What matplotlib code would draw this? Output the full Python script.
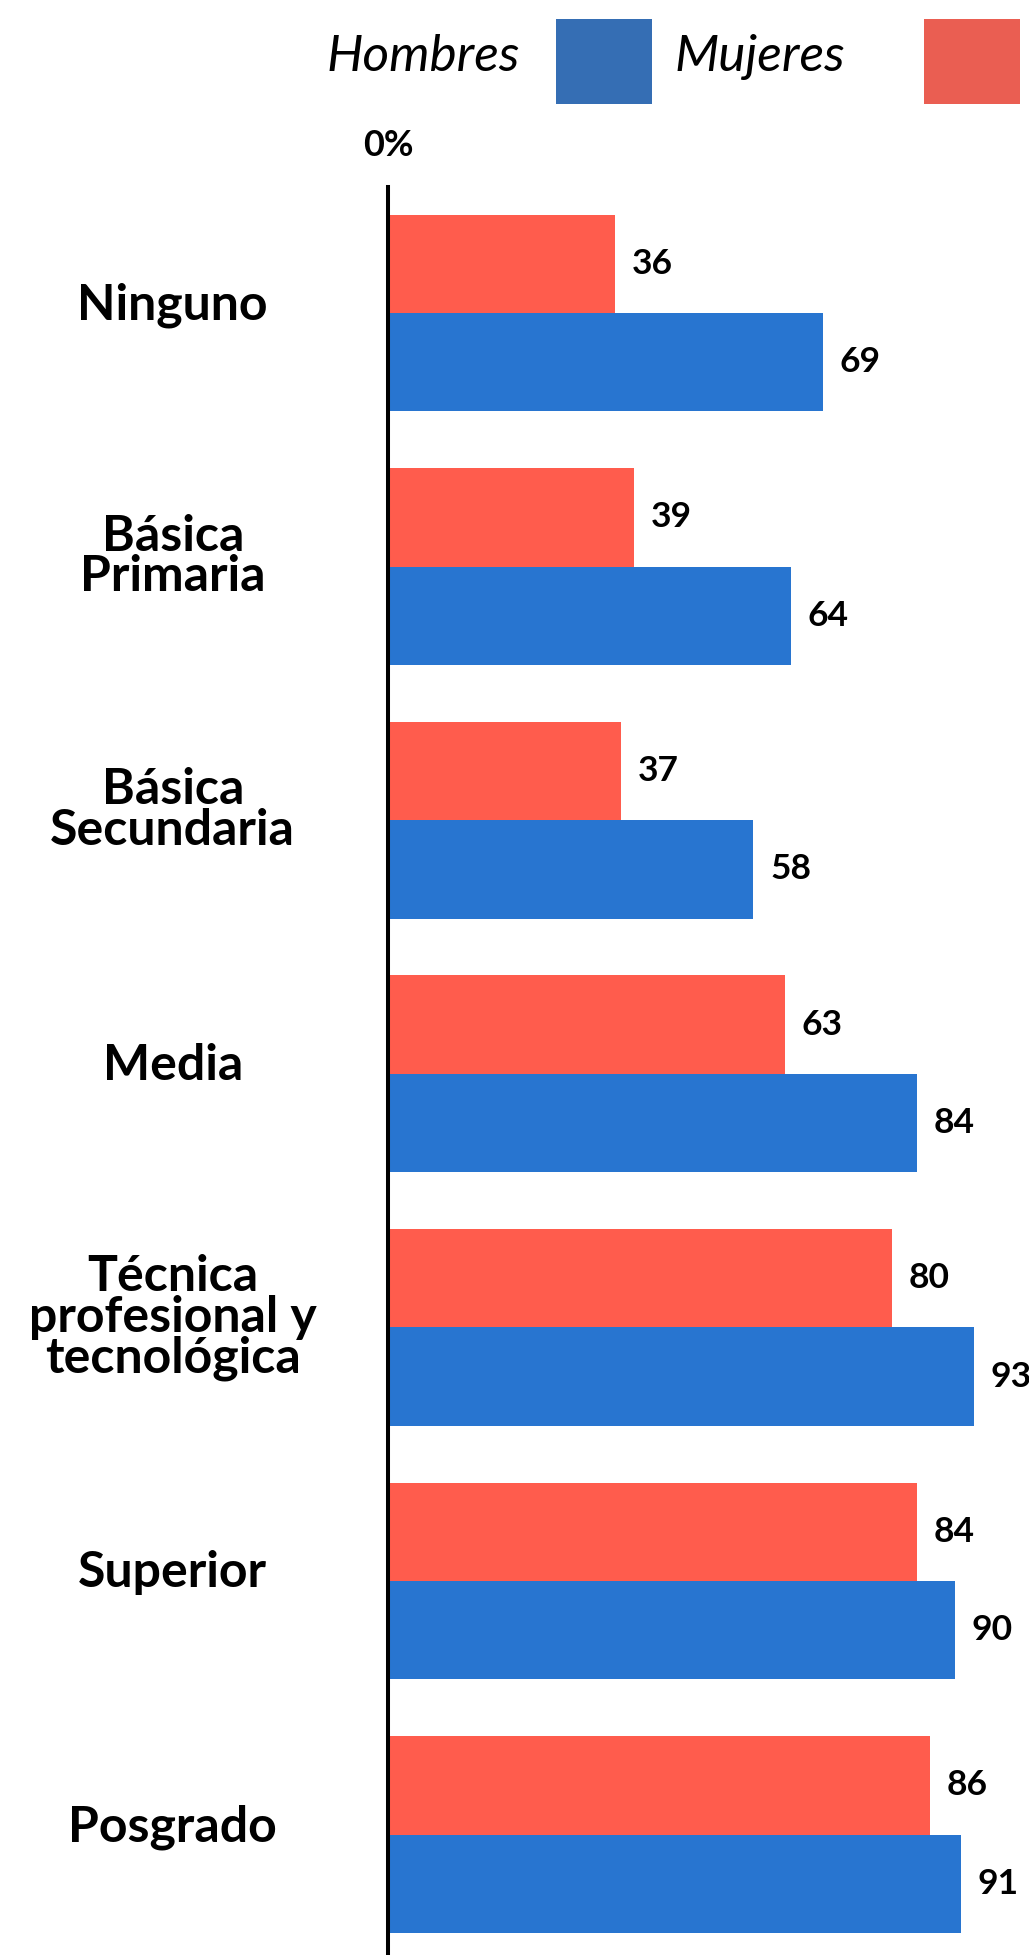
import matplotlib
matplotlib.use("Agg")
import matplotlib.pyplot as plt
from matplotlib.patches import Rectangle
from matplotlib.transforms import ScaledTranslation
import numpy as np

categories = ["Ninguno", "Básica\nPrimaria", "Básica\nSecundaria", "Media",
              "Técnica\nprofesional y\ntecnológica", "Superior", "Posgrado"]
mujeres = [36, 39, 37, 63, 80, 84, 86]
hombres = [69, 64, 58, 84, 93, 90, 91]
series_names = ["Hombres", "Mujeres"]
tick_label = "0%"

RED = "#FF5C4D"
BLUE = "#2875D0"
LEG_BLUE = "#356EB4"
LEG_RED = "#EA5E52"

plt.rcParams['font.family'] = ['Lato', 'DejaVu Sans']

W, H = 1029, 1955
fig = plt.figure(figsize=(W / 100, H / 100), dpi=100)
ax_left = 388 / W
ax_top = (H - 187) / H
ax = fig.add_axes([ax_left, 0, 1 - ax_left, ax_top])

y = np.arange(len(categories))
h = 0.388
ax.barh(y - h / 2, mujeres, height=h, color=RED, label=series_names[1])
ax.barh(y + h / 2, hombres, height=h, color=BLUE, label=series_names[0])

for yi, v in zip(y - h / 2, mujeres):
    ax.annotate(f"{v}", (v, yi), xytext=(12, 0), textcoords="offset points",
                ha="left", va="center", fontsize=25.5, fontweight="bold")
for yi, v in zip(y + h / 2, hombres):
    ax.annotate(f"{v}", (v, yi), xytext=(12, 0), textcoords="offset points",
                ha="left", va="center", fontsize=25.5, fontweight="bold",
                annotation_clip=False)

ax.set_xlim(0, (W - 388) / 6.3)
ax.set_ylim(6.475, -0.497)

ax.set_yticks(y)
ax.set_yticklabels(categories, fontsize=36, fontweight="bold", ha="center",
                   linespacing=0.88)
ax.tick_params(axis="y", length=0, pad=155)
shift = ScaledTranslation(0, 12 / 100, fig.dpi_scale_trans)
for lab in ax.get_yticklabels():
    lab.set_transform(lab.get_transform() + shift)

ax.xaxis.tick_top()
ax.set_xticks([0])
ax.set_xticklabels([tick_label], fontsize=26, fontweight="bold")
ax.tick_params(axis="x", length=0, pad=18)

for s in ["top", "right", "bottom"]:
    ax.spines[s].set_visible(False)
ax.spines["left"].set_linewidth(2.9)
ax.spines["left"].set_color("black")

# legend: label text followed by a colour square
leg_items = [(series_names[0], LEG_BLUE, 520, 556),
             (series_names[1], LEG_RED, 845, 924)]
for name, col, text_right, sq_left in leg_items:
    fig.text(text_right / W, 1 - 71 / H, name, ha="right", va="baseline",
             fontsize=37, style="italic", family="Lato")
    fig.add_artist(Rectangle((sq_left / W, 1 - 104 / H), 96 / W, 85 / H,
                             transform=fig.transFigure, facecolor=col,
                             edgecolor="none"))

fig.savefig("out.png", dpi=100)
